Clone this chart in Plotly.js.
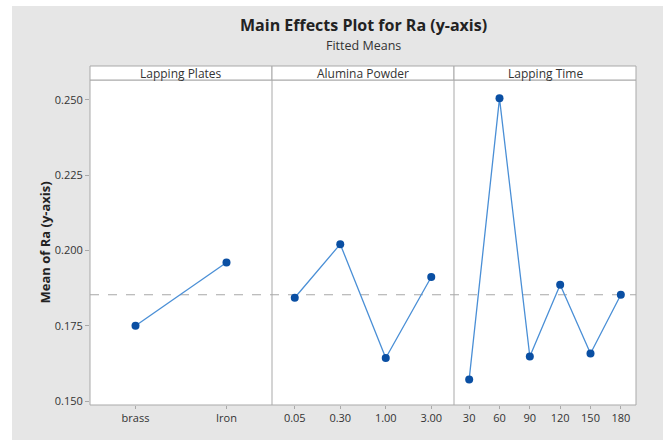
<!DOCTYPE html>
<html>
<head>
<meta charset="utf-8">
<script src="https://cdn.plot.ly/plotly-3.0.1.min.js"></script>
<style>
html,body{margin:0;padding:0;background:#ffffff;width:669px;height:441px;overflow:hidden;}
#chart{position:absolute;left:12px;top:6px;width:651px;height:434px;}
</style>
</head>
<body>
<div id="chart"></div>
<script>
// Data
const platesCats = ["brass", "Iron"];
const platesMeans = [0.1750, 0.1960];
const powderCats = ["0.05", "0.30", "1.00", "3.00"];
const powderMeans = [0.1843, 0.2021, 0.1643, 0.1912];
const timeCats = ["30", "60", "90", "120", "150", "180"];
const timeMeans = [0.1572, 0.2505, 0.1648, 0.1886, 0.1658, 0.1853];
const panelTitles = ["Lapping Plates", "Alumina Powder", "Lapping Time"];
const grandMean = 0.1853;
const yTicks = [0.150, 0.175, 0.200, 0.225, 0.250];

const font = "'Open Sans', 'Noto Sans', sans-serif";
const lineCol = "#4a8fd6";
const markCol = "#0a4fa3";
const frameCol = "#a9a9a9";

function tr(x, y, xa) {
  return {
    x: x, y: y, xaxis: xa, yaxis: "y", type: "scatter", mode: "lines+markers",
    line: {color: lineCol, width: 1.3},
    marker: {color: markCol, size: 8, symbol: "circle"},
    hoverinfo: "x+y", showlegend: false
  };
}

const data = [
  tr(platesCats, platesMeans, "x"),
  tr(powderCats, powderMeans, "x2"),
  tr(timeCats, timeMeans, "x3")
];

function xax(domain, cats) {
  return {
    domain: domain, anchor: "y", type: "category",
    range: [-0.5, cats.length - 0.5],
    showgrid: false, zeroline: false, showline: false,
    ticks: "outside", ticklen: 3, tickcolor: frameCol, tickwidth: 1,
    tickfont: {family: font, size: 11, color: "#333333"},
    fixedrange: true
  };
}

const stripH = 14 / 325;
const shapes = [
  {type: "line", xref: "paper", yref: "y", x0: 0, x1: 1, y0: grandMean, y1: grandMean,
   line: {color: "#a8a8a8", width: 1.2, dash: "dash"}, layer: "below"},
  {type: "rect", xref: "paper", yref: "paper", x0: 0, x1: 1, y0: 0, y1: 1,
   line: {color: frameCol, width: 1}, fillcolor: "rgba(0,0,0,0)"},
  {type: "line", xref: "paper", yref: "paper", x0: 1/3, x1: 1/3, y0: 0, y1: 1,
   line: {color: frameCol, width: 1}},
  {type: "line", xref: "paper", yref: "paper", x0: 2/3, x1: 2/3, y0: 0, y1: 1,
   line: {color: frameCol, width: 1}}
];
const annotations = [];
for (let i = 0; i < 3; i++) {
  shapes.push({type: "rect", xref: "paper", yref: "paper", x0: i/3, x1: (i+1)/3, y0: 1, y1: 1 + stripH,
    line: {color: frameCol, width: 1}, fillcolor: "#ffffff"});
  annotations.push({xref: "paper", yref: "paper", x: (i + 0.5)/3, y: 1 + stripH/2,
    xanchor: "center", yanchor: "middle",
    text: panelTitles[i], showarrow: false, font: {family: font, size: 12, color: "#333333"}});
}
annotations.push({xref: "paper", yref: "paper", x: 0.5, y: 1, yshift: 42,
  xanchor: "center", yanchor: "bottom",
  text: "<b>Main Effects Plot for Ra (y-axis)</b>", showarrow: false,
  font: {family: font, size: 16, color: "#222222"}});
annotations.push({xref: "paper", yref: "paper", x: 0.5, y: 1, yshift: 24,
  xanchor: "center", yanchor: "bottom",
  text: "Fitted Means", showarrow: false,
  font: {family: font, size: 12.5, color: "#333333"}});
annotations.push({xref: "paper", yref: "paper", x: 0, y: 0.5, xshift: -46,
  xanchor: "center", yanchor: "middle", textangle: -90,
  text: "<b>Mean of Ra (y-axis)</b>", showarrow: false,
  font: {family: font, size: 13, color: "#222222"}});

const layout = {
  width: 651, height: 434,
  paper_bgcolor: "#e6e6e6", plot_bgcolor: "#ffffff",
  margin: {l: 78, r: 27, t: 74, b: 35},
  xaxis: xax([0, 1/3], platesCats),
  xaxis2: xax([1/3, 2/3], powderCats),
  xaxis3: xax([2/3, 1], timeCats),
  yaxis: {
    range: [0.1487, 0.2566], tickvals: yTicks, tickformat: ".3f",
    showgrid: false, zeroline: false, showline: false,
    ticks: "outside", ticklen: 4, tickcolor: frameCol,
    tickfont: {family: font, size: 11, color: "#333333"},
    fixedrange: true
  },
  shapes: shapes,
  annotations: annotations,
  showlegend: false
};

Plotly.newPlot("chart", data, layout, {displayModeBar: false, staticPlot: true});
</script>
</body>
</html>
